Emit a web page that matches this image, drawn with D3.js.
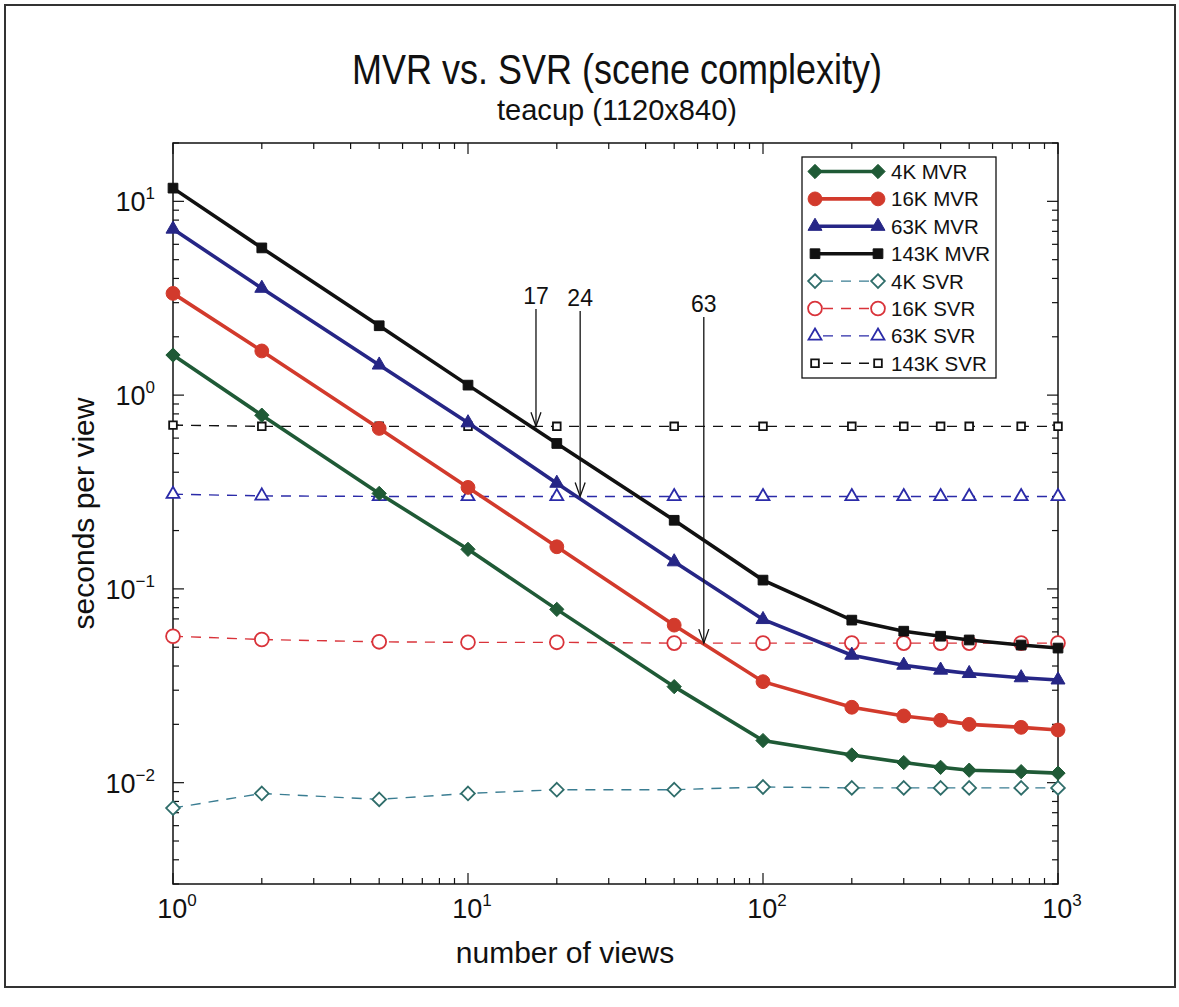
<!DOCTYPE html>
<html><head><meta charset="utf-8">
<script src="https://cdn.jsdelivr.net/npm/d3@7"></script>
<style>body{margin:0;background:#fff}svg{display:block}</style>
</head><body>
<svg id="c" width="1179" height="1007"></svg>
<script>
// ---- data ----
const views   = [1, 2, 5, 10, 20, 50, 100, 200, 300, 400, 500, 750, 1000];
const mvr4k   = [1.61, 0.788, 0.311, 0.160, 0.0784, 0.0313, 0.0165, 0.0139, 0.0127, 0.0120, 0.0116, 0.0114, 0.0112];
const mvr16k  = [3.35, 1.69, 0.673, 0.334, 0.165, 0.065, 0.0332, 0.0245, 0.0221, 0.0210, 0.0200, 0.0193, 0.0187];
const mvr63k  = [7.19, 3.56, 1.43, 0.72, 0.351, 0.138, 0.0695, 0.0455, 0.0404, 0.0381, 0.0366, 0.0348, 0.0339];
const mvr143k = [11.7, 5.75, 2.28, 1.126, 0.563, 0.226, 0.111, 0.069, 0.0605, 0.057, 0.0545, 0.0513, 0.0495];
const svr4k   = [0.0074, 0.0088, 0.0082, 0.0088, 0.0092, 0.0092, 0.0095, 0.0094, 0.0094, 0.0094, 0.0094, 0.0094, 0.0094];
const svr16k  = [0.057, 0.0548, 0.0533, 0.0530, 0.0530, 0.0525, 0.0525, 0.0525, 0.0525, 0.0525, 0.0525, 0.0525, 0.0525];
const svr63k  = [0.308, 0.302, 0.300, 0.300, 0.300, 0.300, 0.300, 0.300, 0.300, 0.300, 0.300, 0.300, 0.300];
const svr143k = [0.70, 0.69, 0.69, 0.69, 0.69, 0.69, 0.69, 0.69, 0.69, 0.69, 0.69, 0.69, 0.69];
const seriesNames = ["4K MVR", "16K MVR", "63K MVR", "143K MVR", "4K SVR", "16K SVR", "63K SVR", "143K SVR"];
const crossViews = [17, 24, 63];
const crossValues = [0.69, 0.30, 0.0525];
const xTickExp = [0, 1, 2, 3];
const yTickExp = [-2, -1, 0, 1];
const titleText = "MVR vs. SVR (scene complexity)";
const subtitleText = "teacup (1120x840)";
const xLabel = "number of views";
const yLabel = "seconds per view";

// ---- layout ----
const L = 173, R = 1058, T = 143, B = 884;
const svg = d3.select("#c");
const x = d3.scaleLog().domain([1, 1000]).range([L, R]);
const y = d3.scaleLog().domain([0.003, 20]).range([B, T]);
const FONT = "'Liberation Sans', Arial, Helvetica, sans-serif";

// outer frame
svg.append("rect").attr("x", 5).attr("y", 5).attr("width", 1170).attr("height", 982)
  .attr("fill", "none").attr("stroke", "#333").attr("stroke-width", 2);

// titles (condensed look like the original)
svg.append("text").attr("x", 617).attr("y", 84).attr("text-anchor", "middle")
  .attr("font-family", FONT).attr("font-size", 43).attr("fill", "#111")
  .attr("textLength", 530).attr("lengthAdjust", "spacingAndGlyphs").text(titleText);
svg.append("text").attr("x", 617).attr("y", 120).attr("text-anchor", "middle")
  .attr("font-family", FONT).attr("font-size", 30).attr("fill", "#111")
  .attr("textLength", 240).attr("lengthAdjust", "spacingAndGlyphs").text(subtitleText);

// plot box
svg.append("rect").attr("x", L).attr("y", T).attr("width", R - L).attr("height", B - T)
  .attr("fill", "#fff").attr("stroke", "#111").attr("stroke-width", 1.5);

// ticks (inward, all 4 sides)
const gT = svg.append("g").attr("stroke", "#111").attr("stroke-width", 1.2);
const xMinor = [], yMinor = [];
for (let e = 0; e < 3; e++) for (let m = 2; m <= 9; m++) xMinor.push(m * Math.pow(10, e));
for (let e = -3; e <= 1; e++) for (let m = 2; m <= 9; m++) {
  const v = m * Math.pow(10, e);
  if (v >= 0.003 && v <= 20) yMinor.push(v);
}
xTickExp.forEach(e => {
  const px = x(Math.pow(10, e));
  gT.append("line").attr("x1", px).attr("x2", px).attr("y1", B).attr("y2", B - 11);
  gT.append("line").attr("x1", px).attr("x2", px).attr("y1", T).attr("y2", T + 11);
});
xMinor.forEach(v => {
  const px = x(v);
  gT.append("line").attr("x1", px).attr("x2", px).attr("y1", B).attr("y2", B - 6);
  gT.append("line").attr("x1", px).attr("x2", px).attr("y1", T).attr("y2", T + 6);
});
yTickExp.forEach(e => {
  const py = y(Math.pow(10, e));
  gT.append("line").attr("x1", L).attr("x2", L + 11).attr("y1", py).attr("y2", py);
  gT.append("line").attr("x1", R).attr("x2", R - 11).attr("y1", py).attr("y2", py);
});
yMinor.forEach(v => {
  const py = y(v);
  gT.append("line").attr("x1", L).attr("x2", L + 6).attr("y1", py).attr("y2", py);
  gT.append("line").attr("x1", R).attr("x2", R - 6).attr("y1", py).attr("y2", py);
});

// tick labels
function powLabel(g, e, px, py, anchor) {
  const t = g.append("text").attr("x", px).attr("y", py).attr("text-anchor", anchor)
    .attr("font-family", FONT).attr("font-size", 27).attr("fill", "#111");
  t.append("tspan").text("10");
  t.append("tspan").attr("dy", -12).attr("font-size", 17).text(e < 0 ? "\u2212" + (-e) : String(e));
}
const gL = svg.append("g");
xTickExp.forEach(e => powLabel(gL, e, x(Math.pow(10, e)) + 4, B + 34, "middle"));
yTickExp.forEach(e => powLabel(gL, e, L - 18, y(Math.pow(10, e)) + 10, "end"));

// axis labels
svg.append("text").attr("x", 565).attr("y", B + 79).attr("text-anchor", "middle")
  .attr("font-family", FONT).attr("font-size", 30).attr("fill", "#111").text(xLabel);
svg.append("text").attr("transform", `translate(94,${(T + B) / 2})rotate(-90)`)
  .attr("text-anchor", "middle").attr("font-family", FONT).attr("font-size", 30)
  .attr("fill", "#111").text(yLabel);

// series definitions
const sym = {
  diamond: d3.symbol().type(d3.symbolDiamond2),
  circle: d3.symbol().type(d3.symbolCircle),
  triangle: d3.symbol().type(d3.symbolTriangle2),
  square: d3.symbol().type(d3.symbolSquare2)
};
const series = [
  {name: seriesNames[0], vals: mvr4k,   color: "#1f5a36", mk: "diamond",  size: 130, solid: true},
  {name: seriesNames[1], vals: mvr16k,  color: "#d23a2c", mk: "circle",   size: 150, solid: true},
  {name: seriesNames[2], vals: mvr63k,  color: "#262686", mk: "triangle", size: 140, solid: true},
  {name: seriesNames[3], vals: mvr143k, color: "#111111", mk: "square",   size: 120, solid: true},
  {name: seriesNames[4], vals: svr4k,   color: "#2f6d6a", mk: "diamond",  size: 120, solid: false, lc: "#3a7d92"},
  {name: seriesNames[5], vals: svr16k,  color: "#d9333a", mk: "circle",   size: 150, solid: false},
  {name: seriesNames[6], vals: svr63k,  color: "#2b2ba8", mk: "triangle", size: 120, solid: false},
  {name: seriesNames[7], vals: svr143k, color: "#111111", mk: "square",   size: 75,  solid: false}
];
const line = d3.line().x(d => x(d[0])).y(d => y(d[1]));
const gD = svg.append("g");
[4, 5, 6, 7, 0, 1, 2, 3].forEach(i => {
  const s = series[i];
  const pts = views.map((v, j) => [v, s.vals[j]]);
  gD.append("path").datum(pts).attr("d", line).attr("fill", "none")
    .attr("stroke", s.lc || s.color).attr("stroke-width", s.solid ? 3.6 : 1.4)
    .attr("stroke-dasharray", s.solid ? null : "10,8");
  gD.selectAll(null).data(pts).enter().append("path")
    .attr("d", sym[s.mk].size(s.size))
    .attr("transform", d => `translate(${x(d[0])},${y(d[1])})`)
    .attr("fill", s.solid ? s.color : "#fff")
    .attr("stroke", s.color).attr("stroke-width", s.solid ? 1 : 1.8);
});

// crossover arrows
const labelTop = [309, 311, 317];
const gA = svg.append("g").attr("stroke", "#111").attr("stroke-width", 1.3).attr("fill", "none");
crossViews.forEach((v, i) => {
  const px = x(v), tip = y(crossValues[i]);
  gA.append("line").attr("x1", px).attr("x2", px).attr("y1", labelTop[i]).attr("y2", tip);
  gA.append("path").attr("d", `M${px - 5},${tip - 14}L${px},${tip}L${px + 5},${tip - 14}`);
  svg.append("text").attr("x", px).attr("y", labelTop[i] - 5).attr("text-anchor", "middle")
    .attr("font-family", FONT).attr("font-size", 23).attr("fill", "#111").text(String(v));
});

// legend
const lx = 802, ly = 157, lw = 194, lh = 221, rowH = 27.4;
const gLeg = svg.append("g");
gLeg.append("rect").attr("x", lx).attr("y", ly).attr("width", lw).attr("height", lh)
  .attr("fill", "#fff").attr("stroke", "#111").attr("stroke-width", 1.3);
series.forEach((s, i) => {
  const cy = ly + 14.5 + i * rowH;
  gLeg.append("line").attr("x1", 815).attr("x2", 878).attr("y1", cy).attr("y2", cy)
    .attr("stroke", s.lc || s.color).attr("stroke-width", s.solid ? 3.6 : 1.4)
    .attr("stroke-dasharray", s.solid ? null : "10,8").attr("stroke-dashoffset", s.solid ? 0 : -8);
  [815, 878].forEach(mx => gLeg.append("path").attr("d", sym[s.mk].size(s.size))
    .attr("transform", `translate(${mx},${cy})`)
    .attr("fill", s.solid ? s.color : "#fff").attr("stroke", s.color)
    .attr("stroke-width", s.solid ? 1 : 1.8));
  gLeg.append("text").attr("x", 891).attr("y", cy + 7.5).attr("font-family", FONT)
    .attr("font-size", 20.5).attr("fill", "#111").text(s.name);
});
</script>
</body></html>
